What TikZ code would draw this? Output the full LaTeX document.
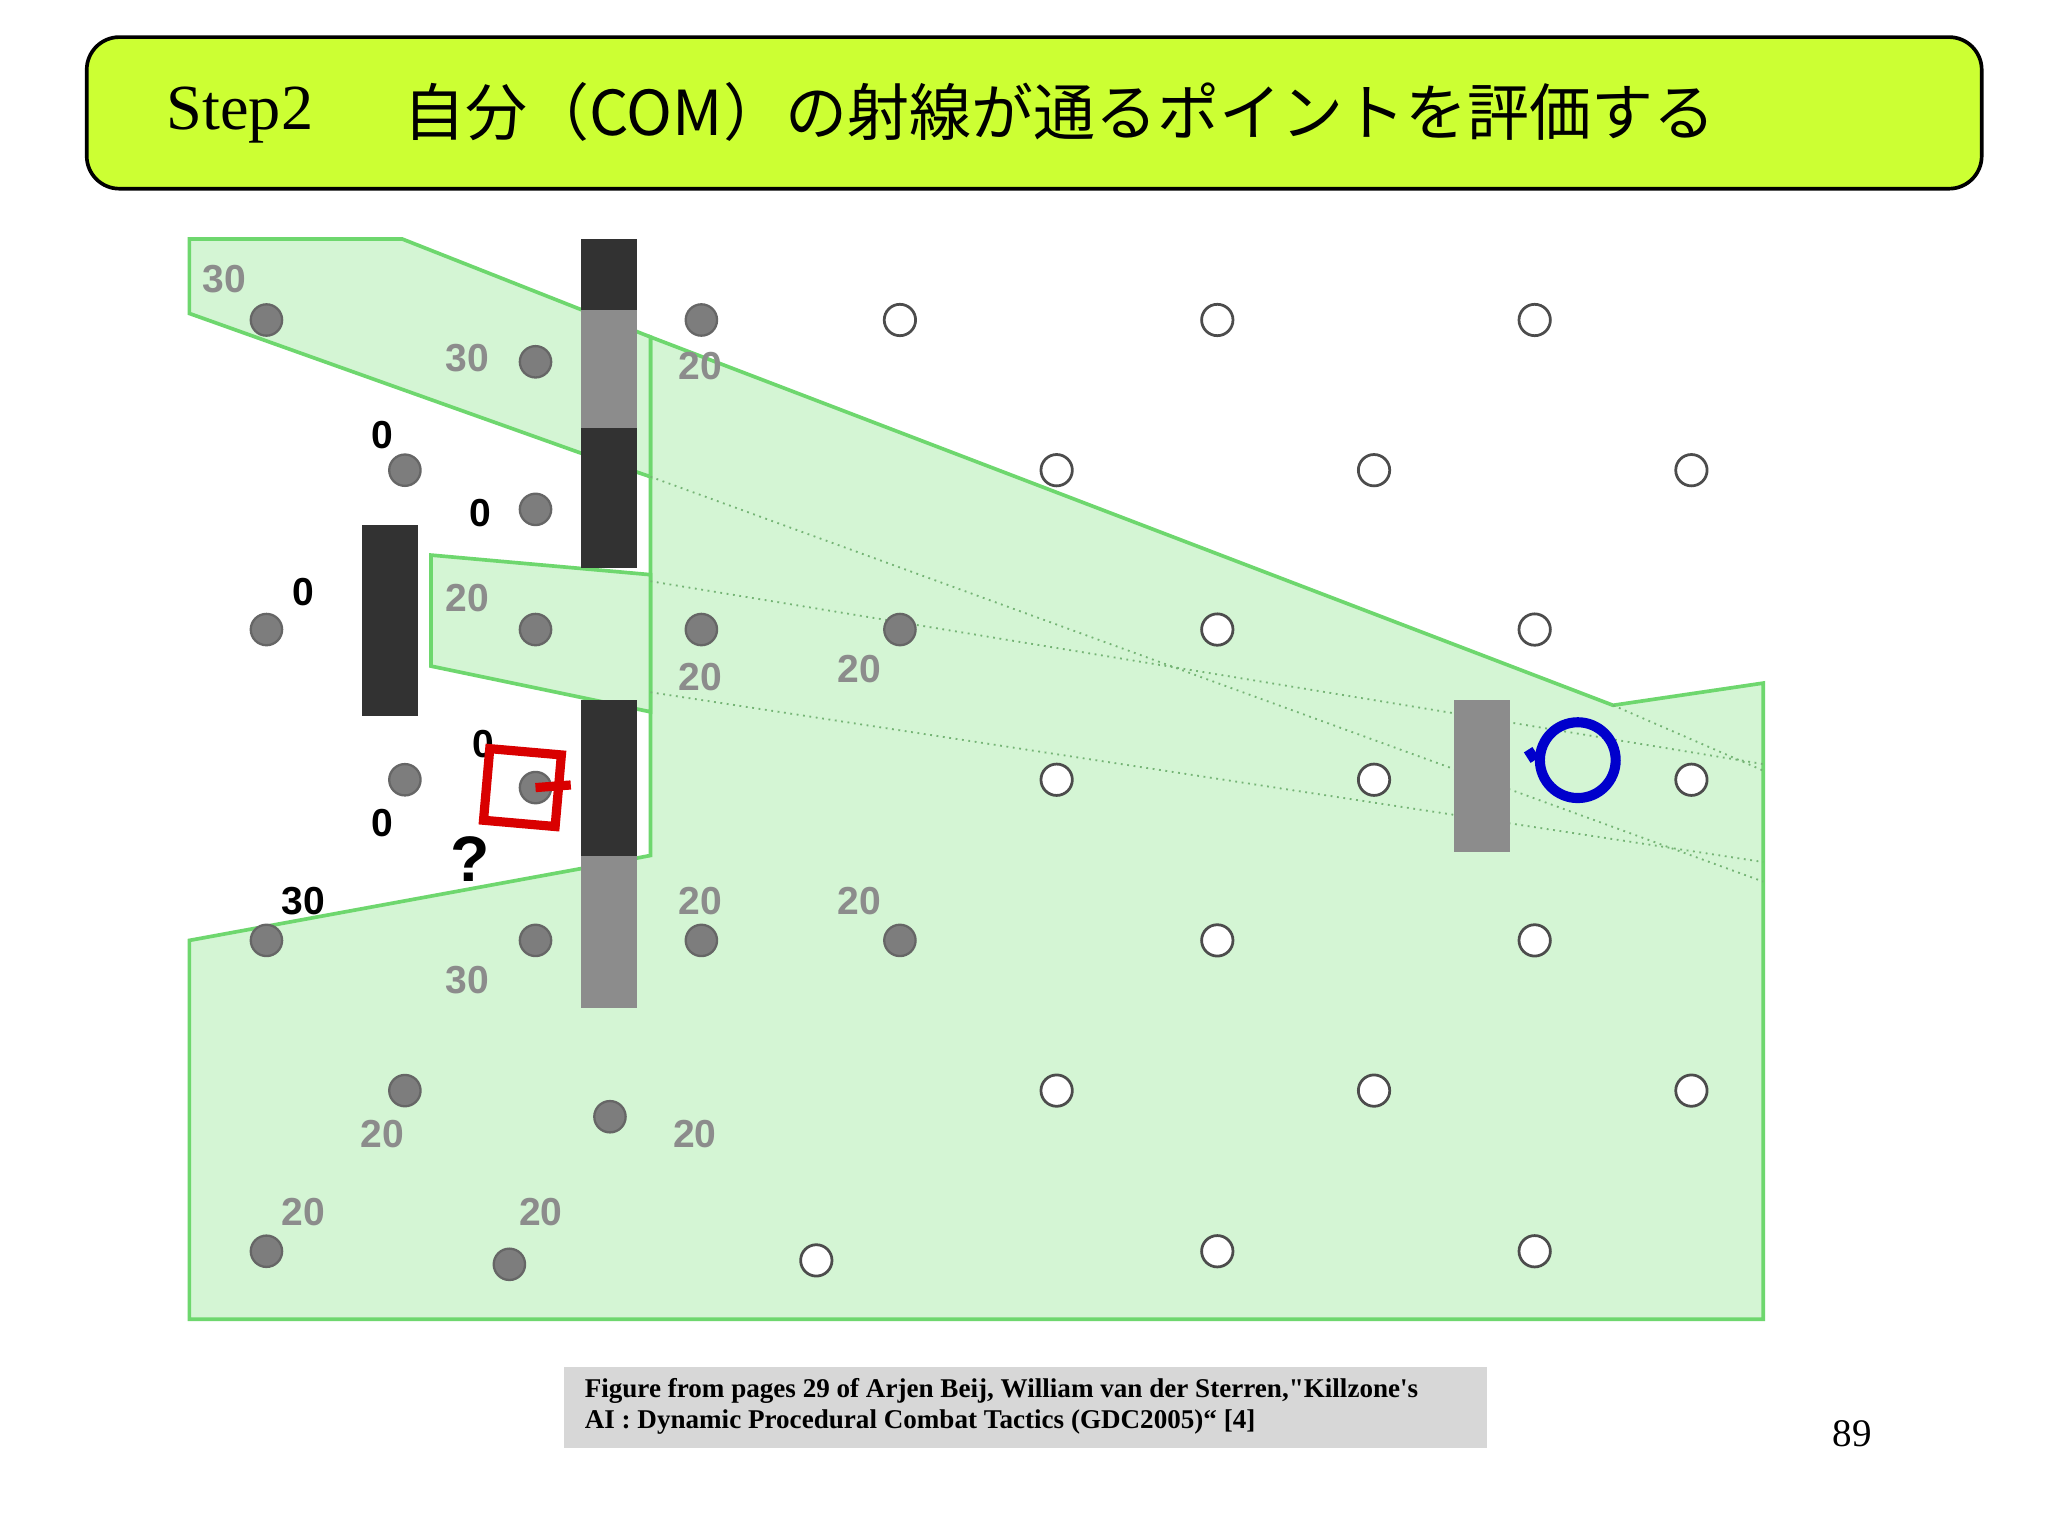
\documentclass[tikz,border=0pt]{standalone}
\usepackage{fontspec}
\setmainfont{Liberation Serif}
\newfontfamily\capfont[Ligatures=ResetAll]{Liberation Serif}
\newfontfamily\cjk{Noto Sans CJK JP}
\newfontfamily\lsans{Liberation Sans}
\definecolor{titlefill}{RGB}{204,255,51}
\definecolor{zonefill}{RGB}{212,245,212}
\definecolor{zoneline}{RGB}{110,215,110}
\definecolor{walldark}{RGB}{50,50,50}
\definecolor{wallgrey}{RGB}{140,140,140}
\definecolor{dotgrey}{RGB}{125,125,125}
\definecolor{capgrey}{RGB}{215,215,215}
\begin{document}
\begin{tikzpicture}[x=0.01cm,y=-0.01cm,
 zone/.style={fill=zonefill,draw=zoneline,line width=0.8pt},
 ray/.style={draw=zoneline!60!gray,line width=0.4pt,densely dotted},
 wd/.style={fill=walldark,draw=none},
 wg/.style={fill=wallgrey,draw=none},
 gd/.style={circle,fill=dotgrey,draw=black!60,line width=0.5pt,minimum size=0.24cm,inner sep=0pt},
 wdot/.style={circle,fill=white,draw=black!70,line width=0.6pt,minimum size=0.24cm,inner sep=0pt},
 gl/.style={font=\lsans\bfseries\fontsize{8.5}{9}\selectfont,text=black!45,inner sep=0pt},
 bl/.style={font=\lsans\bfseries\fontsize{8.5}{9}\selectfont,text=black,inner sep=0pt}]
\useasboundingbox (0,0) rectangle (1568,1176);
\fill[white] (0,0) rectangle (1568,1176);
% title
\node[draw=black,line width=0.8pt,fill=titlefill,rounded corners=0.25cm,minimum width=14.5cm,minimum height=1.16cm,anchor=north west] (title) at (65,27) {};
\node[anchor=west,font=\fontsize{14}{15}\selectfont,inner sep=0pt] (step) at (127,88) {Step2};
\node[anchor=west,font=\cjk\fontsize{13.5}{15}\selectfont,inner sep=0pt] (jp) at (308,86) {自分（COM）の射線が通るポイントを評価する};
% zones
\path[zone] (145,1010) -- (145,720) -- (445,665) -- (498,655) -- (498,258) -- (1235,540) -- (1350,523) -- (1350,1010) -- cycle;
\path[zone] (145,183) -- (308,183) -- (498,258) -- (498,365) -- (445,347) -- (145,240) -- cycle;
\path[zone] (330,425) -- (498,440) -- (498,545) -- (330,510) -- cycle;
\draw[ray] (498,365) -- (1350,675);
\draw[ray] (498,445) -- (1350,585);
\draw[ray] (498,530) -- (1350,660);
\draw[ray] (1235,540) -- (1350,590);
% walls
\path[wd] (445,183) rectangle (488,237);
\path[wg] (445,237) rectangle (488,328);
\path[wd] (445,328) rectangle (488,435);
\path[wd] (277,402) rectangle (320,548);
\path[wd] (445,536) rectangle (488,655);
\path[wg] (445,655) rectangle (488,772);
\path[wg] (1113,536) rectangle (1156,652);
% grey dots
\foreach \x/\y [count=\i] in {204/245,410/277,537/245,310/360,410/390,204/482,410/482,537/482,689/482,310/597,410/603,204/720,410/720,537/720,689/720,310/835,467/855,204/958,390/968}
  \node[gd] (g\i) at (\x,\y) {};
% white dots
\foreach \x/\y [count=\i] in {689/245,932/245,1175/245,809/360,1052/360,1295/360,932/482,1175/482,809/597,1052/597,1295/597,932/720,1175/720,809/835,1052/835,1295/835,625/965,932/958,1175/958}
  \node[wdot] (w\i) at (\x,\y) {};
% labels
\node[gl] (l1) at (172,214) {30};
\node[gl] (l2) at (358,274) {30};
\node[bl] (l3) at (293,333) {0};
\node[bl] (l4) at (368,393) {0};
\node[bl] (l5) at (232,453) {0};
\node[gl] (l6) at (358,458) {20};
\node[gl] (l7) at (536,280) {20};
\node[gl] (l8) at (536,518) {20};
\node[gl] (l9) at (658,512) {20};
\node[bl] (l10) at (370,570) {0};
\node[bl] (l11) at (293,630) {0};
\node[bl,font=\lsans\bfseries\fontsize{14}{15}\selectfont] (q) at (360,658) {?};
\node[bl] (l12) at (232,690) {30};
\node[gl] (l13) at (536,690) {20};
\node[gl] (l14) at (658,690) {20};
\node[gl] (l15) at (358,750) {30};
\node[gl] (l16) at (293,868) {20};
\node[gl] (l17) at (532,868) {20};
\node[gl] (l18) at (232,928) {20};
\node[gl] (l19) at (414,928) {20};
% player square
\node[draw=red!85!black,line width=2pt,minimum size=0.55cm,rotate=-5] (sq) at (400,603) {};
\coordinate (sqt) at (437,601);
\draw[red!85!black,line width=2pt] (g11.center) -- (sqt);
% enemy circle
\node[circle,draw=blue!80!black,line width=2.2pt,minimum size=0.58cm,inner sep=0pt] (en) at (1208,582) {};
\coordinate (ent) at (1170,574);
\draw[blue!80!black,line width=2.2pt] (ent) -- (en.west);
% caption
\node[fill=capgrey,minimum width=7.06cm,minimum height=0.62cm,anchor=north west] (cap) at (431,1046) {};
\node[anchor=west,align=left,font=\capfont\bfseries\fontsize{5.9}{6.8}\selectfont,inner sep=0pt] (captxt) at (447,1077) {Figure from pages 29 of Arjen Beij, William van der Sterren,"Killzone's\\AI : Dynamic Procedural Combat Tactics (GDC2005)“ [4]};
\node[font=\fontsize{8.5}{9}\selectfont,inner sep=0pt] (pg) at (1418,1098) {89};
\end{tikzpicture}
\end{document}
